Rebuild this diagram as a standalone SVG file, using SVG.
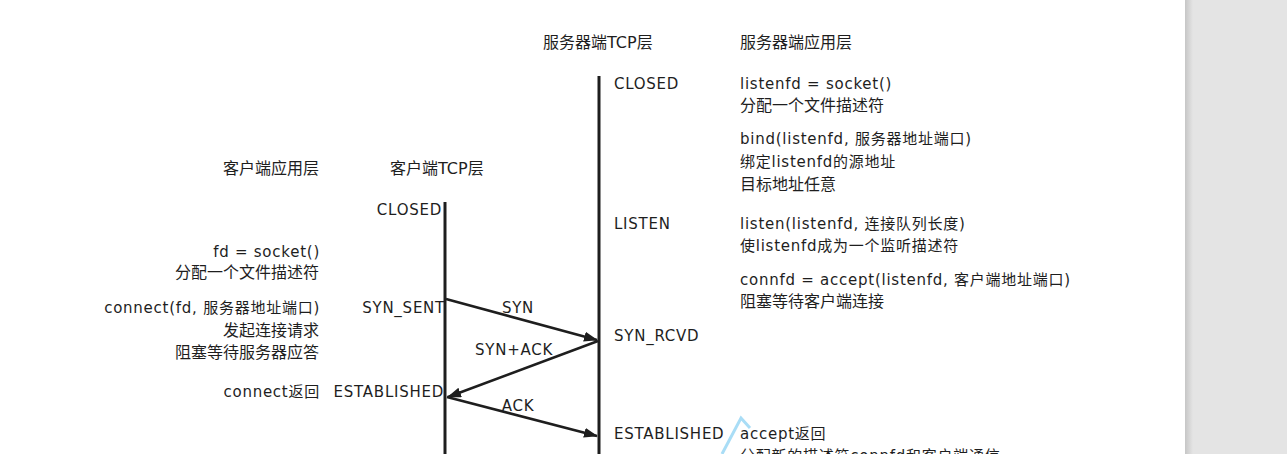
<svg xmlns="http://www.w3.org/2000/svg" width="1287" height="454" viewBox="0 0 1287 454">
  <style>
    text { font-family: "DejaVu Sans", "Noto Sans CJK SC", sans-serif; font-size: 15px; fill: #1e1e1e; letter-spacing: 0.75px; }
    .cjk { font-size: 16px; letter-spacing: 0; }
    .end { text-anchor: end; }
    .mid { text-anchor: middle; }
    .life { stroke: #1e1e1e; stroke-width: 3; fill: none; }
    .msg { stroke: #1e1e1e; stroke-width: 2.5; fill: none; marker-end: url(#ah); }
  </style>
  <defs>
    <marker id="ah" viewBox="0 0 14 10" refX="13" refY="5" markerWidth="14" markerHeight="10" markerUnits="userSpaceOnUse" orient="auto">
      <path d="M0,0 L14,5 L0,10 Z" fill="#1e1e1e"/>
    </marker>
    <linearGradient id="shadow" x1="0" x2="1" y1="0" y2="0">
      <stop offset="0" stop-color="#c6c6c6"/>
      <stop offset="1" stop-color="#e4e4e4"/>
    </linearGradient>
  </defs>

  <rect x="0" y="0" width="1287" height="454" fill="#ffffff"/>
  <g id="sidebar">
    <rect x="1185" y="0" width="102" height="454" fill="#e4e4e4"/>
    <rect x="1185" y="0" width="8" height="454" fill="url(#shadow)"/>
  </g>

  <g id="server-headers">
    <text x="543" y="48" class="cjk">服务器端TCP层</text>
    <text x="740" y="48" class="cjk">服务器端应用层</text>
  </g>
  <g id="client-headers">
    <text x="319" y="174" class="cjk end">客户端应用层</text>
    <text x="390" y="174" class="cjk">客户端TCP层</text>
  </g>

  <g id="server-lifeline">
    <line class="life" x1="599" y1="76" x2="599" y2="454"/>
  </g>
  <g id="client-lifeline">
    <line class="life" x1="445" y1="202" x2="445" y2="454"/>
  </g>

  <g id="server-states">
    <text x="614" y="89">CLOSED</text>
    <text x="614" y="229">LISTEN</text>
    <text x="614" y="341">SYN_RCVD</text>
    <text x="614" y="439">ESTABLISHED</text>
  </g>
  <g id="server-app">
    <text x="740" y="89">listenfd = socket()</text>
    <text x="740" y="111" class="cjk">分配一个文件描述符</text>
    <text x="740" y="144">bind(listenfd, 服务器地址端口)</text>
    <text x="740" y="167">绑定listenfd的源地址</text>
    <text x="740" y="190" class="cjk">目标地址任意</text>
    <text x="740" y="229">listen(listenfd, 连接队列长度)</text>
    <text x="740" y="251">使listenfd成为一个监听描述符</text>
    <text x="740" y="285">connfd = accept(listenfd, 客户端地址端口)</text>
    <text x="740" y="307" class="cjk">阻塞等待客户端连接</text>
    <text x="740" y="439">accept返回</text>
    <text x="740" y="461">分配新的描述符connfd和客户端通信</text>
  </g>

  <g id="client-states">
    <text x="442" y="215" class="end">CLOSED</text>
    <text x="445" y="313" class="end">SYN_SENT</text>
    <text x="444" y="397" class="end">ESTABLISHED</text>
  </g>
  <g id="client-app">
    <text x="320" y="257" class="end">fd = socket()</text>
    <text x="319" y="278" class="cjk end">分配一个文件描述符</text>
    <text x="320" y="313" class="end">connect(fd, 服务器地址端口)</text>
    <text x="319" y="336" class="cjk end">发起连接请求</text>
    <text x="319" y="358" class="cjk end">阻塞等待服务器应答</text>
    <text x="320" y="397" class="end">connect返回</text>
  </g>

  <g id="connectors">
    <line class="msg" x1="446" y1="299" x2="597" y2="340"/>
    <line class="msg" x1="598" y1="341" x2="448" y2="397"/>
    <line class="msg" x1="447" y1="397" x2="597" y2="436"/>
    <text x="518" y="313" class="mid">SYN</text>
    <text x="514" y="355" class="mid">SYN+ACK</text>
    <text x="518" y="411" class="mid">ACK</text>
  </g>

  <g id="cursor-mark">
    <polyline points="722,454 741,418 750,428" fill="none" stroke="#a9ddf6" stroke-width="3"/>
  </g>
</svg>
